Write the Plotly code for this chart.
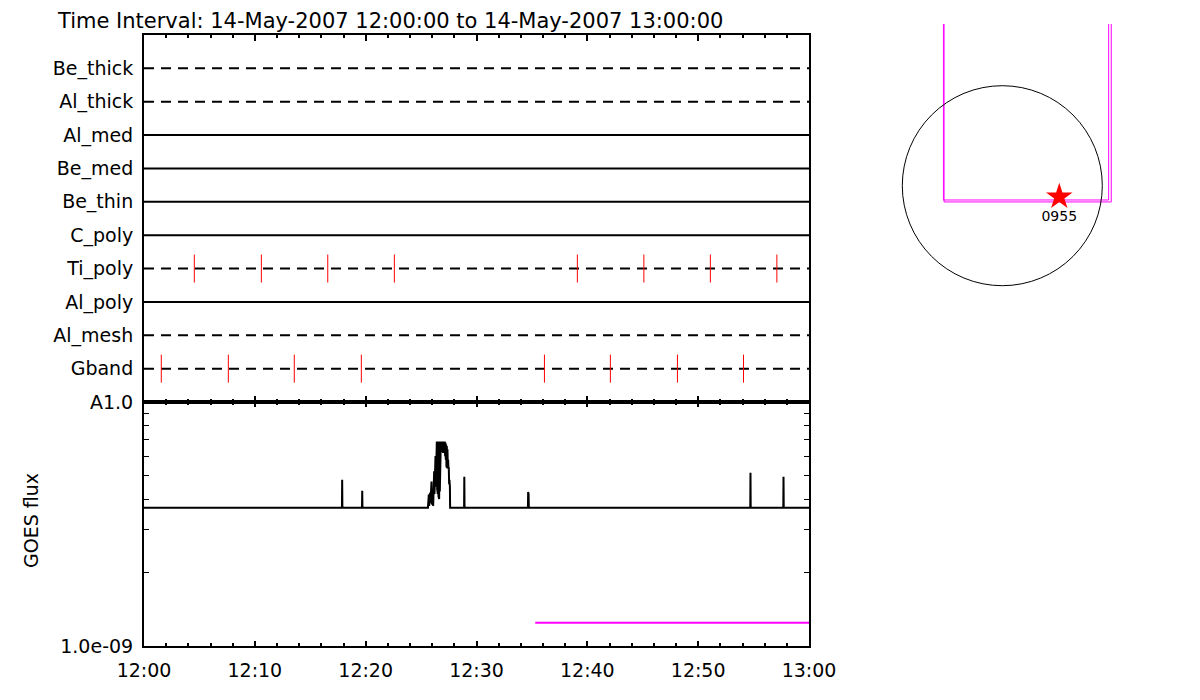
import pandas as pd
import plotly.graph_objects as go

FONT = "DejaVu Sans"
T0 = pd.Timestamp("2007-05-14 12:00:00")
T1 = pd.Timestamp("2007-05-14 13:00:00")

# XRT filters, top to bottom, and the filter wheel each one sits on
filters = ["Be_thick", "Al_thick", "Al_med", "Be_med", "Be_thin",
           "C_poly", "Ti_poly", "Al_poly", "Al_mesh", "Gband"]
filter_wheel = [2, 2, 1, 1, 1, 1, 2, 1, 2, 2]

# exposure times, minutes after 12:00
ti_poly_exp = [4.54, 10.59, 16.58, 22.59, 39.10, 45.10, 51.10, 57.10]
gband_exp = [1.56, 7.61, 13.56, 19.61, 36.13, 42.08, 48.13, 54.09]

# GOES flux (units of 1e-9 W/m^2), minutes after 12:00
goes_min = [
    0.00, 17.86, 17.88, 17.90, 19.67, 19.69, 19.71,
    25.62, 25.64, 25.67, 25.70, 25.73, 25.76, 25.79, 25.82, 25.85, 25.88,
    25.91, 25.94, 25.97, 26.00, 26.03, 26.06, 26.09, 26.12, 26.15, 26.18,
    26.21, 26.24, 26.27, 26.30, 26.33, 26.36, 26.39, 26.42, 26.45, 26.48,
    26.51, 26.54, 26.57, 26.60, 26.63, 26.66, 26.69, 26.72, 26.75, 26.78,
    26.81, 26.84, 26.87, 26.90, 26.93, 26.96, 26.99, 27.02, 27.05, 27.08,
    27.11, 27.14, 27.17, 27.20, 27.23, 27.26, 27.29, 27.32, 27.35, 27.38,
    27.41, 27.44, 27.47, 27.50, 27.53, 27.56, 27.60, 27.62,
    28.88, 28.90, 28.92, 34.64, 34.66, 34.70, 34.72,
    54.70, 54.72, 54.74, 57.68, 57.70, 57.72, 60.00,
]
goes_flux = [
    3.69, 3.69, 4.80, 3.69, 3.69, 4.33, 3.69,
    3.69, 4.15, 3.72, 4.18, 3.75, 4.20, 3.80, 4.25, 3.85, 4.72,
    4.00, 4.72, 3.85, 4.30, 3.80, 4.30, 3.75, 4.40, 3.85, 5.20,
    4.20, 5.70, 4.30, 6.00, 4.50, 6.50, 4.60, 6.88, 4.40, 6.80,
    4.20, 6.88, 4.10, 6.85, 4.00, 6.88, 4.30, 6.80, 5.00, 6.88,
    6.30, 6.88, 6.25, 6.85, 6.30, 6.88, 6.20, 6.88, 6.25, 6.85,
    6.30, 6.88, 6.00, 6.80, 5.80, 6.70, 5.40, 6.60, 5.35, 6.40,
    5.50, 5.80, 5.30, 5.40, 4.60, 4.80, 4.50, 3.69,
    3.69, 4.94, 3.69, 3.69, 4.28, 4.18, 3.69,
    3.69, 5.13, 3.69, 3.69, 4.94, 3.69, 3.69,
]
night_min = [35.3, 60.0]
night_flux = [1.246, 1.246]

# pointing map (arcsec)
sun_radius = 960
fov_a_x = [-565, -565, 1021, 1021]
fov_a_y = [1700, -137, -137, 1700]
fov_b_x = [-559, -559, 1046, 1046]
fov_b_y = [1700, -156, -156, 1700]
target_x = [547]
target_y = [-106]
target_label = ["0955"]


def t(m):
    return T0 + pd.to_timedelta(m, unit="min")


# page body has an 8px margin, so screen pixel p sits at p-8 in the figure
def px_x(p):
    return (p - 8) / 1200


def px_y(p):
    return (700 - (p - 8)) / 700


fig = go.Figure()

n = len(filters)
rows = {f: n - i for i, f in enumerate(filters)}

for f, w in zip(filters, filter_wheel):
    fig.add_trace(go.Scatter(
        x=[T0, T1], y=[rows[f], rows[f]], mode="lines",
        line=dict(color="black", width=2, dash="10px,7px" if w == 2 else "solid"),
        xaxis="x", yaxis="y", hoverinfo="skip", showlegend=False,
    ))

for f, exp in [("Ti_poly", ti_poly_exp), ("Gband", gband_exp)]:
    xs, ys = [], []
    for m in exp:
        xs += [t(m), t(m), None]
        ys += [rows[f] - 0.42, rows[f] + 0.42, None]
    fig.add_trace(go.Scatter(
        x=xs, y=ys, mode="lines", line=dict(color="red", width=1),
        xaxis="x", yaxis="y", showlegend=False,
    ))

fig.add_trace(go.Scatter(
    x=[t(m) for m in goes_min], y=[v * 1e-9 for v in goes_flux], mode="lines",
    line=dict(color="black", width=2), xaxis="x2", yaxis="y2", showlegend=False,
))
fig.add_trace(go.Scatter(
    x=[t(m) for m in night_min], y=[v * 1e-9 for v in night_flux], mode="lines",
    line=dict(color="#ff00ff", width=2), xaxis="x2", yaxis="y2", showlegend=False,
))

# pointing map
for fx, fy in [(fov_a_x, fov_a_y), (fov_b_x, fov_b_y)]:
    fig.add_trace(go.Scatter(
        x=fx, y=fy, mode="lines", line=dict(color="#ff00ff", width=1),
        xaxis="x3", yaxis="y3", showlegend=False,
    ))
fig.add_trace(go.Scatter(
    x=target_x, y=target_y, mode="markers+text", text=target_label,
    textposition="bottom center", textfont=dict(family=FONT, size=14, color="black"),
    marker=dict(symbol="star", size=20, color="red", line=dict(width=0)),
    xaxis="x3", yaxis="y3", showlegend=False,
))
fig.add_shape(type="circle", xref="x3", yref="y3",
              x0=-sun_radius, x1=sun_radius, y0=-sun_radius, y1=sun_radius,
              line=dict(color="black", width=1))

top = px_y(35)
mid = px_y(402)
bot = px_y(646)
xdom = [px_x(144), px_x(809)]

axis_common = dict(showline=True, linecolor="black", linewidth=2, showgrid=False,
                   zeroline=False, mirror="ticks", automargin=False)

fig.update_layout(
    width=1200, height=700,
    margin=dict(l=0, r=0, t=0, b=0),
    paper_bgcolor="white", plot_bgcolor="white",
    font=dict(family=FONT, color="black", size=19),
    xaxis=dict(domain=xdom, anchor="y", range=[T0, T1], type="date",
               showticklabels=False, ticks="inside", ticklen=6, tickwidth=2,
               tickcolor="black", dtick=600000, tick0=T0,
               minor=dict(dtick=120000, ticks="inside", ticklen=3, tickwidth=2,
                          tickcolor="black"),
               **axis_common),
    yaxis=dict(domain=[mid, top], anchor="x", range=[0, n + 1],
               tickvals=list(rows.values()), ticktext=list(rows.keys()),
               ticks="", ticklabelstandoff=5, **axis_common),
    xaxis2=dict(domain=xdom, anchor="y2", range=[T0, T1], type="date",
                tickformat="%H:%M", ticks="inside", ticklen=5, tickwidth=2,
                tickcolor="black", dtick=600000, tick0=T0, ticklabelstandoff=6,
                minor=dict(dtick=120000, ticks="inside", ticklen=3, tickwidth=2,
                           tickcolor="black"),
                **axis_common),
    yaxis2=dict(domain=[bot, mid], anchor="x2", type="log", range=[-9, -8],
                tickvals=[1e-9, 1e-8], ticktext=["1.0e-09", "A1.0"],
                ticks="inside", ticklen=5, tickcolor="black", ticklabelstandoff=5,
                minor=dict(tickvals=[k * 1e-9 for k in range(2, 10)],
                           ticks="inside", ticklen=5, tickcolor="black"),
                **axis_common),
    xaxis3=dict(domain=[px_x(880), px_x(1140)], anchor="y3",
                range=[(880 - 1002.3) * 9.6, (1140 - 1002.3) * 9.6], visible=False),
    yaxis3=dict(domain=[px_y(300), px_y(24)], anchor="x3",
                range=[(185.7 - 300) * 9.6, (185.7 - 24) * 9.6], visible=False),
    annotations=[
        dict(text="Time Interval: 14-May-2007 12:00:00 to 14-May-2007 13:00:00",
             xref="paper", yref="paper", x=px_x(56), y=1.0,
             xanchor="left", yanchor="top", showarrow=False, borderpad=0,
             font=dict(family=FONT, size=21, color="black")),
        dict(text="GOES flux", xref="paper", yref="paper", x=px_x(31), y=px_y(521),
             xanchor="center", yanchor="middle", textangle=-90, showarrow=False,
             font=dict(family=FONT, size=19, color="black")),
    ],
)

fig.write_html("out.html")
